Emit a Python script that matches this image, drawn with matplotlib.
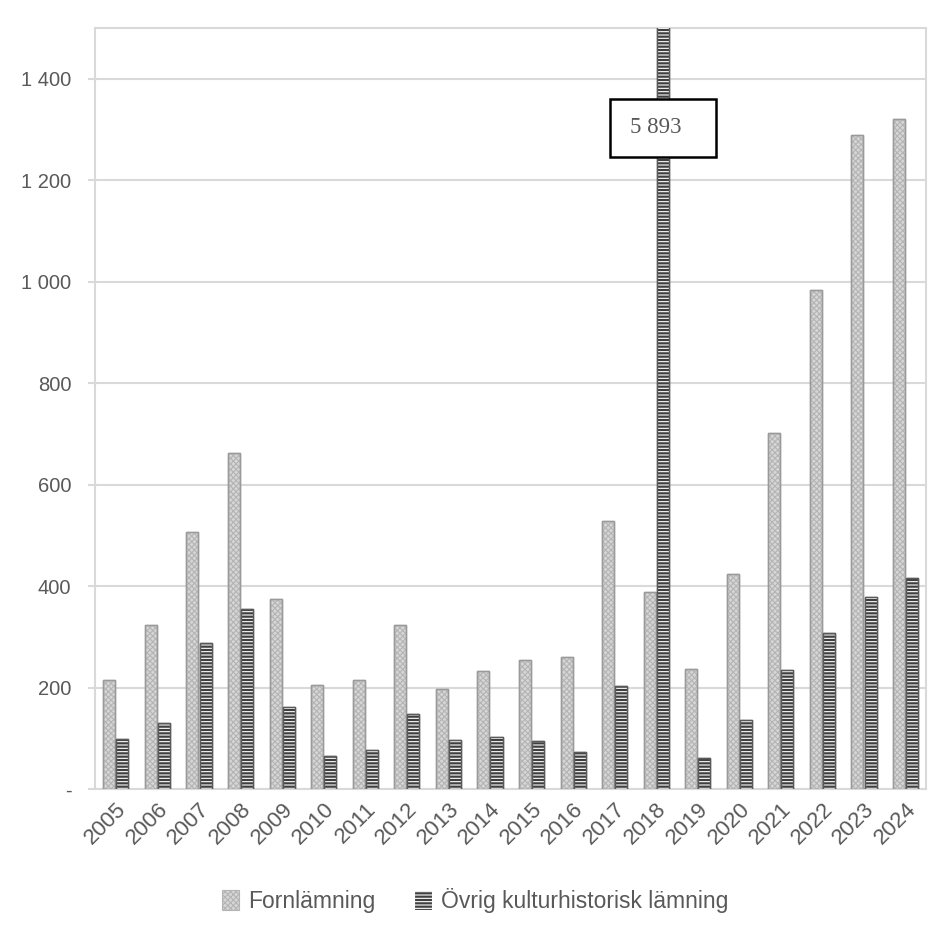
import matplotlib
matplotlib.use("Agg")
import matplotlib.pyplot as plt
from matplotlib.patches import Rectangle, Patch
from matplotlib.ticker import FuncFormatter
import numpy as np

years = [str(y) for y in range(2005, 2025)]
fornlamning = [215, 323, 507, 663, 375, 205, 215, 323, 197, 233, 254, 260, 528, 388, 237, 424, 702, 984, 1290, 1320]
ovrig = [99, 130, 288, 355, 162, 65, 77, 148, 97, 103, 95, 73, 203, 5893, 61, 136, 235, 308, 379, 416]
label_forn = "Fornlämning"
label_ovrig = "Övrig kulturhistorisk lämning"
callout_text = "5 893"
yticks = [0, 200, 400, 600, 800, 1000, 1200, 1400]

plt.rcParams['font.family'] = ['Liberation Sans', 'DejaVu Sans']
plt.rcParams['hatch.linewidth'] = 0.8

fig = plt.figure(figsize=(9.5, 9.34), dpi=100)
ax = fig.add_axes([0.1, 0.155, 0.875, 0.815])

x = np.arange(len(years))
w = 0.29
xf = x - 0.155
xo = x + 0.16

# Fornlämning: light dotted pattern
ax.bar(xf, fornlamning, w, color='#d6d6d6', edgecolor='#9a9a9a', linewidth=1.0, zorder=3)
ax.bar(xf, fornlamning, w, color='none', edgecolor='#b4b4b4', hatch='xxxxxx', linewidth=0, zorder=3)
ax.bar(xf, fornlamning, w, color='none', edgecolor='#9a9a9a', linewidth=1.0, zorder=3)

# Övrig: dark with white horizontal stripes
ax.bar(xo, ovrig, w, color='#3f3f3f', edgecolor='#5a5a5a', linewidth=1.0, zorder=3)
ax.bar(xo, ovrig, w, color='none', edgecolor='white', hatch='-----', linewidth=0, zorder=3)
ax.bar(xo, ovrig, w, color='none', edgecolor='#5a5a5a', linewidth=1.0, zorder=3)

ax.set_xlim(-0.5, len(years) - 0.5)
ax.set_ylim(0, 1500)
ax.set_yticks(yticks)

def fmt(v, pos):
    if v == 0:
        return '-'
    return f"{int(v):,}".replace(',', ' ')

ax.yaxis.set_major_formatter(FuncFormatter(fmt))
ax.set_xticks(x)
ax.set_xticklabels(years, rotation=45, ha='right', rotation_mode='anchor')

ax.grid(axis='y', color='#d9d9d9', linewidth=1.5, zorder=0)
ax.set_axisbelow(True)
for s in ax.spines.values():
    s.set_color('#d9d9d9')
    s.set_linewidth(1.5)

ax.tick_params(axis='y', length=5, width=1.5, color='#d9d9d9', labelsize=14.5,
               labelcolor='#595959', pad=12)
ax.tick_params(axis='x', length=0, labelsize=16, labelcolor='#595959', pad=7)

# Callout box for the clipped 2018 bar
i18 = years.index('2018')
bx = xo[i18]
rect = Rectangle((bx - 1.28, 1245), 2.57, 115, facecolor='white', edgecolor='black',
                 linewidth=1.8, zorder=5)
ax.add_patch(rect)
ax.text(bx - 0.18, 1303, callout_text, ha='center', va='center', fontsize=16.5,
        color='#595959', family=['Liberation Serif'], zorder=6)

handles = [
    Patch(facecolor='#d6d6d6', edgecolor='#b4b4b4', hatch='xxxxxx', linewidth=0.8),
    Patch(facecolor='#3f3f3f', edgecolor='white', hatch='-----', linewidth=0.8),
]
leg = fig.legend(handles, [label_forn, label_ovrig], loc='center', bbox_to_anchor=(0.5, 0.036),
                 ncol=2, frameon=False, fontsize=16.5, handlelength=0.75, handleheight=0.95,
                 handletextpad=0.4, columnspacing=1.7)
for t in leg.get_texts():
    t.set_color('#595959')

fig.savefig('out.png', dpi=100)
